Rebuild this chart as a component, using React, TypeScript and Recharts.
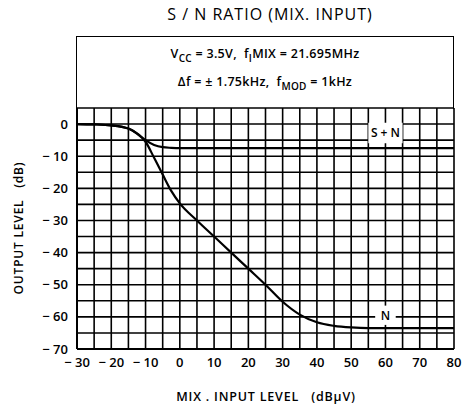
import React from 'react';
import { LineChart, Line, XAxis, YAxis, CartesianGrid, ReferenceArea } from 'recharts';

const inputLevel = [-30, -25, -20, -15, -12.5, -10, -7.5, -5, -2.5, 0, 5, 10, 15, 20, 25, 30, 35, 40, 45, 50, 55, 60, 65, 70, 75, 80];
const signalNoise = [0, -0.1, -0.4, -1.4, -2.9, -5, -6.5, -7.2, -7.4, -7.5, -7.5, -7.5, -7.5, -7.5, -7.5, -7.5, -7.5, -7.5, -7.5, -7.5, -7.5, -7.5, -7.5, -7.5, -7.5, -7.5];
const noise = [0, -0.1, -0.4, -1.4, -3, -5.5, -10.5, -15.7, -20.8, -24.7, -30, -35, -40, -45, -50, -55.3, -59.3, -61.7, -62.8, -63.3, -63.5, -63.5, -63.5, -63.5, -63.5, -63.5];

const xTicks = [-30, -25, -20, -15, -10, -5, 0, 5, 10, 15, 20, 25, 30, 35, 40, 45, 50, 55, 60, 65, 70, 75, 80];
const yTicks = [5, 0, -5, -10, -15, -20, -25, -30, -35, -40, -45, -50, -55, -60, -65, -70];

// curve name tags sitting on the grid
const tags = [
  { text: 'S + N', x1: 55, x2: 65, y1: 0.4, y2: -6 },
  { text: 'N', x1: 57, x2: 63, y1: -56.5, y2: -62.5 },
];

const data = inputLevel.map((x, i) => ({ x, sn: signalNoise[i], n: noise[i] }));

const FONT = '"Open Sans", sans-serif';

const fmt = (v: number) => {
  if (v % 10 !== 0 || v > 80) return '';
  return v < 0 ? `\u2212 ${Math.abs(v)}` : `${v}`;
};
const fmtY = (v: number) => (v > 0 ? '' : fmt(v));

const tickStyle = { fontSize: 13, fontWeight: 600, fill: '#000', fontFamily: FONT };

export default function App() {
  return (
    <div style={{ position: 'absolute', left: 0, top: 0, width: 466, height: 406, background: '#fff', fontFamily: FONT, color: '#000' }}>
      <div style={{ position: 'absolute', left: 0, width: 466, top: 3, textAlign: 'center', paddingLeft: 74, boxSizing: 'border-box', fontSize: 16, fontWeight: 500, letterSpacing: 1, whiteSpace: 'pre' }}>
        {'S / N RATIO (MIX. INPUT)'}
      </div>
      <div style={{ position: 'absolute', left: 76, top: 36, width: 376, height: 72, border: '1.5px solid #000', borderBottom: 'none', fontSize: 12.5, fontWeight: 600, textAlign: 'center', letterSpacing: 0.3 }}>
        <div style={{ marginTop: 8 }}>
          V<sub style={{ fontSize: 10 }}>CC</sub> = 3.5V,&nbsp; f<sub style={{ fontSize: 10 }}>I</sub>MIX = 21.695MHz
        </div>
        <div style={{ marginTop: 8 }}>
          Δf = ± 1.75kHz,&nbsp; f<sub style={{ fontSize: 10 }}>MOD</sub> = 1kHz
        </div>
      </div>
      <div style={{ position: 'absolute', left: 18, top: 228, transform: 'translate(-50%, -50%) rotate(-90deg)', whiteSpace: 'pre', fontSize: 12, fontWeight: 600, letterSpacing: 0.8 }}>
        {'OUTPUT LEVEL   (dB)'}
      </div>
      <div style={{ position: 'absolute', left: 0, width: 466, top: 388, paddingLeft: 66, boxSizing: 'border-box', textAlign: 'center', whiteSpace: 'pre', fontSize: 12.5, fontWeight: 600, letterSpacing: 0.8 }}>
        {'MIX . INPUT LEVEL   (dBμV)'}
      </div>
      <LineChart width={466} height={406} data={data} margin={{ top: 108, right: 12, bottom: 27, left: 17 }}>
        <CartesianGrid stroke="#000" strokeWidth={1.6} strokeOpacity={1} />
        <XAxis
          dataKey="x"
          type="number"
          domain={[-30, 80]}
          ticks={xTicks}
          tickFormatter={fmt}
          interval={0}
          axisLine={{ stroke: '#000', strokeWidth: 2 }}
          tickLine={false}
          height={30}
          tick={tickStyle}
          tickMargin={3}
        />
        <YAxis
          type="number"
          domain={[-70, 5]}
          ticks={yTicks}
          tickFormatter={fmtY}
          interval={0}
          axisLine={{ stroke: '#000', strokeWidth: 2 }}
          tickLine={false}
          width={60}
          tick={tickStyle}
          tickMargin={3}
        />
        {tags.map((t) => (
          <ReferenceArea
            key={t.text}
            x1={t.x1}
            x2={t.x2}
            y1={t.y1}
            y2={t.y2}
            fill="#fff"
            fillOpacity={1}
            stroke="none"
            label={{ value: t.text, position: 'center', fontSize: 12, fontWeight: 600, fill: '#000', fontFamily: FONT }}
          />
        ))}
        <Line type="monotone" dataKey="sn" stroke="#000" strokeWidth={2.2} dot={false} isAnimationActive={false} />
        <Line type="monotone" dataKey="n" stroke="#000" strokeWidth={2.2} dot={false} isAnimationActive={false} />
      </LineChart>
    </div>
  );
}
